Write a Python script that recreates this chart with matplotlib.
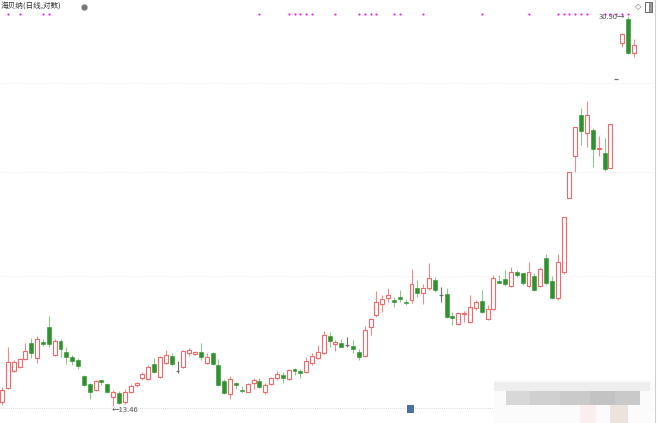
import numpy as np
import matplotlib as mpl
mpl.use('Agg')
import matplotlib.pyplot as plt
from matplotlib.patches import Rectangle
from matplotlib.lines import Line2D
from matplotlib.ticker import NullLocator
import matplotlib.transforms as mtransforms

mpl.rcParams['font.family'] = ['Noto Sans CJK SC', 'DejaVu Sans']

title = "海贝纳(日线,对数)"

# daily OHLC (log price scale)
opens = [13.57, 13.99, 14.50, 14.62, 14.88, 15.39, 14.91, 15.41, 15.93, 15.01,
         15.46, 15.11, 14.94, 14.85, 14.35, 14.11, 13.93, 14.22, 14.11, 13.72,
         13.84, 13.57, 13.87, 14.08, 14.29, 14.26, 14.72, 14.32, 14.75, 14.98,
         14.50, 14.62, 15.07, 15.04, 15.11, 14.75, 15.07, 14.69, 14.20, 13.81,
         14.14, 13.92, 13.87, 14.14, 14.20, 13.87, 14.11, 14.29, 14.38, 14.26,
         14.56, 14.50, 14.47, 14.75, 14.91, 15.07, 15.63, 15.36, 15.39, 15.33,
         15.30, 15.11, 14.98, 15.93, 16.34, 16.73, 16.94, 16.87, 16.98, 16.80,
         16.87, 17.30, 17.12, 17.30, 17.60, 17.05, 17.09, 16.31, 16.03, 16.37,
         16.10, 16.58, 16.84, 16.20, 16.55, 17.56, 17.64, 17.38, 17.90, 17.87,
         17.38, 17.75, 17.38, 18.45, 17.56, 16.94, 17.90, 20.96, 22.92, 25.01,
         24.07, 24.22, 23.26, 23.06, 22.34, 27.00, 29.15, 30.67, 28.54]
highs = [14.02, 15.27, 14.85, 14.91, 15.39, 15.56, 15.63, 15.52, 16.31, 15.52,
         15.52, 15.27, 15.01, 14.91, 14.38, 14.14, 14.23, 14.23, 14.14, 13.93,
         13.90, 13.96, 14.11, 14.17, 14.47, 14.69, 14.91, 14.98, 15.17, 15.07,
         14.82, 15.17, 15.24, 15.14, 15.39, 15.07, 15.11, 14.88, 14.26, 14.35,
         14.17, 14.05, 14.14, 14.29, 14.29, 14.14, 14.32, 14.50, 14.47, 14.56,
         14.59, 14.56, 14.94, 15.07, 15.33, 15.79, 15.76, 15.49, 15.52, 15.59,
         15.49, 15.20, 15.97, 16.24, 17.19, 17.05, 17.30, 16.98, 17.23, 16.91,
         18.02, 17.60, 17.45, 18.26, 17.71, 17.34, 17.30, 16.44, 16.44, 16.48,
         17.05, 16.87, 17.23, 16.69, 17.79, 17.79, 17.98, 18.10, 17.98, 17.88,
         18.29, 17.87, 18.10, 18.60, 17.75, 18.60, 20.13, 22.15, 24.37, 25.38,
         25.76, 24.32, 23.91, 23.81, 24.53, 27.00, 29.77, 30.90, 29.39]
lows = [13.48, 13.97, 14.47, 14.59, 14.85, 14.91, 14.75, 15.30, 15.27, 14.98,
        14.94, 14.72, 14.69, 14.56, 14.05, 13.66, 13.90, 14.08, 13.84, 13.46,
        13.52, 13.52, 13.84, 14.02, 14.23, 14.23, 14.44, 14.29, 14.72, 14.66,
        14.44, 14.59, 14.98, 15.01, 14.85, 14.72, 14.69, 14.05, 13.81, 13.66,
        13.96, 13.84, 13.86, 13.96, 13.99, 13.81, 14.08, 14.23, 14.14, 14.23,
        14.38, 14.29, 14.44, 14.69, 14.88, 15.04, 15.27, 15.14, 15.26, 15.27,
        15.07, 14.85, 14.94, 15.66, 16.27, 16.44, 16.80, 16.62, 16.80, 16.69,
        16.76, 16.98, 16.73, 17.23, 17.16, 16.80, 16.24, 16.00, 16.00, 16.10,
        16.07, 16.51, 16.41, 16.17, 16.51, 17.49, 17.38, 17.34, 17.71, 17.41,
        17.34, 17.19, 17.34, 17.41, 16.91, 16.87, 17.83, 20.96, 22.15, 23.46,
        23.36, 22.38, 22.92, 22.20, 22.34, 27.00, 28.90, 28.50, 28.29]
closes = [13.93, 14.79, 14.79, 14.88, 15.14, 15.07, 15.52, 15.37, 15.36, 15.46,
          15.20, 14.94, 14.82, 14.66, 14.08, 13.87, 14.20, 14.17, 13.87, 13.87,
          13.55, 13.87, 14.05, 14.14, 14.41, 14.62, 14.47, 14.94, 15.01, 14.72,
          14.50, 15.14, 15.17, 15.11, 14.94, 14.94, 14.72, 14.08, 13.84, 14.26,
          14.08, 13.89, 14.11, 14.23, 14.02, 14.08, 14.29, 14.41, 14.29, 14.53,
          14.50, 14.44, 14.82, 14.98, 15.11, 15.66, 15.46, 15.42, 15.27, 15.33,
          15.20, 14.94, 15.83, 16.20, 16.80, 16.91, 17.05, 16.80, 16.91, 16.76,
          17.45, 17.12, 17.30, 17.68, 17.23, 17.05, 16.27, 16.24, 16.41, 16.41,
          16.62, 16.80, 16.44, 16.55, 17.68, 17.51, 17.45, 17.90, 17.79, 17.49,
          17.90, 17.23, 18.02, 17.49, 16.94, 18.29, 20.13, 22.15, 24.37, 24.17,
          25.01, 23.26, 23.31, 22.29, 24.53, 27.00, 29.71, 28.54, 29.02]

# days with a signal dot along the top
signal_days = [1, 3, 7, 8, 44, 49, 50, 51, 52, 53, 57, 61, 62, 63, 64, 67, 68,
               72, 82, 90, 95, 96, 97, 98, 99, 100, 103, 104, 105, 106, 107]

low_day, low_price = 19, 13.46
high_day, high_price = 107, 30.90
grid_prices = [26.76, 22.15, 17.75]
base_price = 13.40

W, H = 670, 423
fig = plt.figure(figsize=(W / 100, H / 100), dpi=100)
fig.patch.set_facecolor('white')
ax = fig.add_axes([0, 6 / H, 654 / W, 417 / H])
ax.set_facecolor('white')

up_col = '#f26868'
up_wick = '#f38a8a'
dn_col = '#2f922f'
dn_wick = '#8cc98c'
doji_col = '#707070'
bw = 0.68

for i in range(len(opens)):
    o, h, l, c = opens[i], highs[i], lows[i], closes[i]
    if c > o:
        ax.vlines(i, l, h, color=up_wick, lw=0.8, zorder=1)
        ax.bar(i, c - o, bottom=o, width=bw, facecolor='white',
               edgecolor=up_col, linewidth=0.8, zorder=2)
    elif c < o:
        ax.vlines(i, l, h, color=dn_wick, lw=0.8, zorder=1)
        ax.bar(i, o - c, bottom=c, width=bw, color=dn_col,
               edgecolor=dn_col, linewidth=0.4, zorder=2)
    else:
        ax.vlines(i, l, h, color=doji_col, lw=0.8, zorder=1)
        ax.hlines(o, i - bw / 2, i + bw / 2, color=doji_col, lw=0.9, zorder=2)

for g in grid_prices:
    ax.axhline(g, color='#e4e4e4', lw=0.6, ls=(0, (1, 2)), zorder=0)
ax.axhline(base_price, color='#cccccc', lw=0.6, ls=(0, (1, 1.5)), zorder=0)

trans = mtransforms.blended_transform_factory(ax.transData, ax.transAxes)
ax.scatter(signal_days, [1 - 14 / 417] * len(signal_days), s=2.5,
           color='#ee22ee', transform=trans, zorder=3, linewidths=0)

ax.annotate("←13.46", xy=(low_day, low_price), xytext=(-1, -2.6),
            textcoords='offset points', ha='left', va='center',
            fontsize=5.5, color='#555555')
ax.annotate("30.90→", xy=(high_day, high_price), xytext=(-2, -1),
            textcoords='offset points', ha='right', va='center',
            fontsize=5.5, color='#555555')

ax.set_yscale('log')
ax.set_xlim(-2 / 5.85, -2 / 5.85 + 654 / 5.85)
ax.set_ylim(13.148, 31.97)
ax.yaxis.set_major_locator(NullLocator())
ax.yaxis.set_minor_locator(NullLocator())
ax.set_xticks([])
for s in ax.spines.values():
    s.set_visible(False)


def px_rect(x0, y0, x1, y1, color, **kw):
    fig.patches.append(Rectangle((x0 / W, 1 - y1 / H), (x1 - x0) / W, (y1 - y0) / H,
                                 transform=fig.transFigure, facecolor=color,
                                 edgecolor='none', zorder=5, **kw))


# blurred watermark bottom right
px_rect(494, 380, 653, 423, '#fbfbfb')
px_rect(494, 382, 650, 391, '#eeeeee')
for x0, x1, col in [(506, 530, '#d8d8d8'), (530, 560, '#d0d0d0'), (560, 590, '#cacaca'),
                    (590, 615, '#c3c3c3'), (615, 640, '#c9c9c9')]:
    px_rect(x0, 391, x1, 405, col)
px_rect(580, 405, 596, 423, '#fbeeee')
px_rect(610, 405, 628, 423, '#ebe3dc')

# small blue marker under the axis
px_rect(407, 405, 414, 413, '#4b6f9e')

# right border
fig.lines.append(Line2D([654.5 / W, 654.5 / W], [0, 1], transform=fig.transFigure,
                        color='#d0d0d0', lw=0.8))

# title and icons
fig.text(1 / W, 1 - 7 / H, title, fontsize=5.5, color='#333333', va='center', ha='left')
fig.lines.append(Line2D([84 / W], [1 - 7 / H], transform=fig.transFigure, marker='o',
                        markersize=3.5, color='#777777', lw=0))
fig.text(638 / W, 1 - 7 / H, "◇", fontsize=6, color='#666666', va='center', ha='center',
         family='DejaVu Sans')
px_rect(645, 2, 652, 12, 'none')
fig.patches.append(Rectangle((645 / W, 1 - 12 / H), 7 / W, 10 / H, transform=fig.transFigure,
                             facecolor='white', edgecolor='#666666', lw=0.7, zorder=6))
fig.patches.append(Rectangle((649 / W, 1 - 12 / H), 3 / W, 10 / H, transform=fig.transFigure,
                             facecolor='#999999', edgecolor='#666666', lw=0.5, zorder=6))

fig.savefig('out.png', dpi=100)
